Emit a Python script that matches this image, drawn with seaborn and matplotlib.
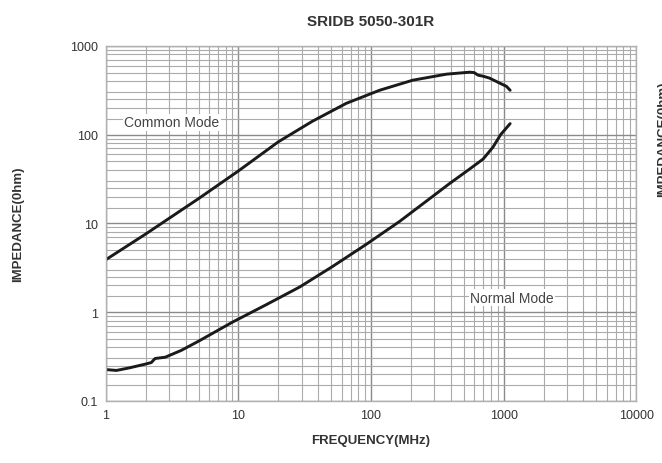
import matplotlib
matplotlib.use("Agg")
import matplotlib.pyplot as plt
import seaborn as sns
import pandas as pd
from matplotlib.ticker import LogLocator, FixedLocator, NullFormatter

# data
cm_freq = [1, 2, 5, 10, 20, 36, 65, 116, 206, 371, 553, 600, 640, 700, 780, 936, 1050, 1120]
cm_imp = [3.9, 7.6, 19, 39, 83, 141, 225, 316, 410, 480, 505, 500, 468, 455, 434, 380, 350, 316]

nm_freq = [1, 1.2, 1.5, 2, 2.2, 2.35, 2.8, 3.7, 5, 9, 16, 29, 51, 92, 164, 290, 390, 555, 700, 830, 950, 1120]
nm_imp = [0.225, 0.22, 0.235, 0.26, 0.27, 0.3, 0.31, 0.37, 0.47, 0.77, 1.2, 1.92, 3.25, 5.8, 10.5, 20, 28, 41, 53, 72, 100, 133]

sns.set_style("white")
plt.rcParams['font.family'] = ['Liberation Sans', 'DejaVu Sans']

cm = pd.DataFrame({"freq": cm_freq, "imp": cm_imp})
nm = pd.DataFrame({"freq": nm_freq, "imp": nm_imp})

fig = plt.figure(figsize=(6.62, 4.64), dpi=100)
ax = fig.add_axes([0.160, 0.134, 0.801, 0.765])
ax.set_xscale("log")
ax.set_yscale("log")

sns.lineplot(data=cm, x="freq", y="imp", ax=ax, color="#1a1a1a", linewidth=2.1)
sns.lineplot(data=nm, x="freq", y="imp", ax=ax, color="#1a1a1a", linewidth=2.1)

ax.set_xlim(1, 10000)
ax.set_ylim(0.1, 1000)
ax.xaxis.set_major_locator(FixedLocator([1, 10, 100, 1000, 10000]))
ax.yaxis.set_major_locator(FixedLocator([0.1, 1, 10, 100, 1000]))
ax.set_xticklabels(["1", "10", "100", "1000", "10000"])
ax.set_yticklabels(["0.1", "1", "10", "100", "1000"])
ax.xaxis.set_minor_locator(LogLocator(base=10, subs=range(2, 10)))
ax.yaxis.set_minor_locator(LogLocator(base=10, subs=[1.5, 2, 2.5, 3, 4, 5, 6, 7, 8, 9]))
ax.xaxis.set_minor_formatter(NullFormatter())
ax.yaxis.set_minor_formatter(NullFormatter())
ax.grid(which="major", color="#8a8a8a", linewidth=1.0)
ax.grid(which="minor", color="#ababab", linewidth=0.8)
ax.tick_params(which="both", length=0, labelsize=9, colors="#333333", pad=6)
for s in ax.spines.values():
    s.set_color("#b0b0b0")
    s.set_linewidth(1.0)

ax.text(1.37, 137, "Common Mode", fontsize=10, color="#444444", va="center", ha="left",
        bbox=dict(facecolor="white", edgecolor="none", pad=1))
ax.text(560, 1.45, "Normal Mode", fontsize=10, color="#444444", va="center", ha="left",
        bbox=dict(facecolor="white", edgecolor="none", pad=1))

ax.set_title("SRIDB 5050-301R", fontsize=11, fontweight="bold", color="#333333", pad=15)
ax.set_xlabel("FREQUENCY(MHz)", fontsize=9.5, fontweight="bold", color="#333333", labelpad=9)
ax.set_ylabel("IMPEDANCE(0hm)", fontsize=9.5, fontweight="bold", color="#333333")
ax.yaxis.set_label_coords(-0.155, 0.5)

# second panel's y label peeking in at the right edge of the datasheet crop
fig.text(0.993, 0.70, "IMPEDANCE(0hm)", rotation=90, fontsize=9.5, fontweight="bold",
         color="#333333", ha="left", va="center")

fig.savefig("out.png", dpi=100)
